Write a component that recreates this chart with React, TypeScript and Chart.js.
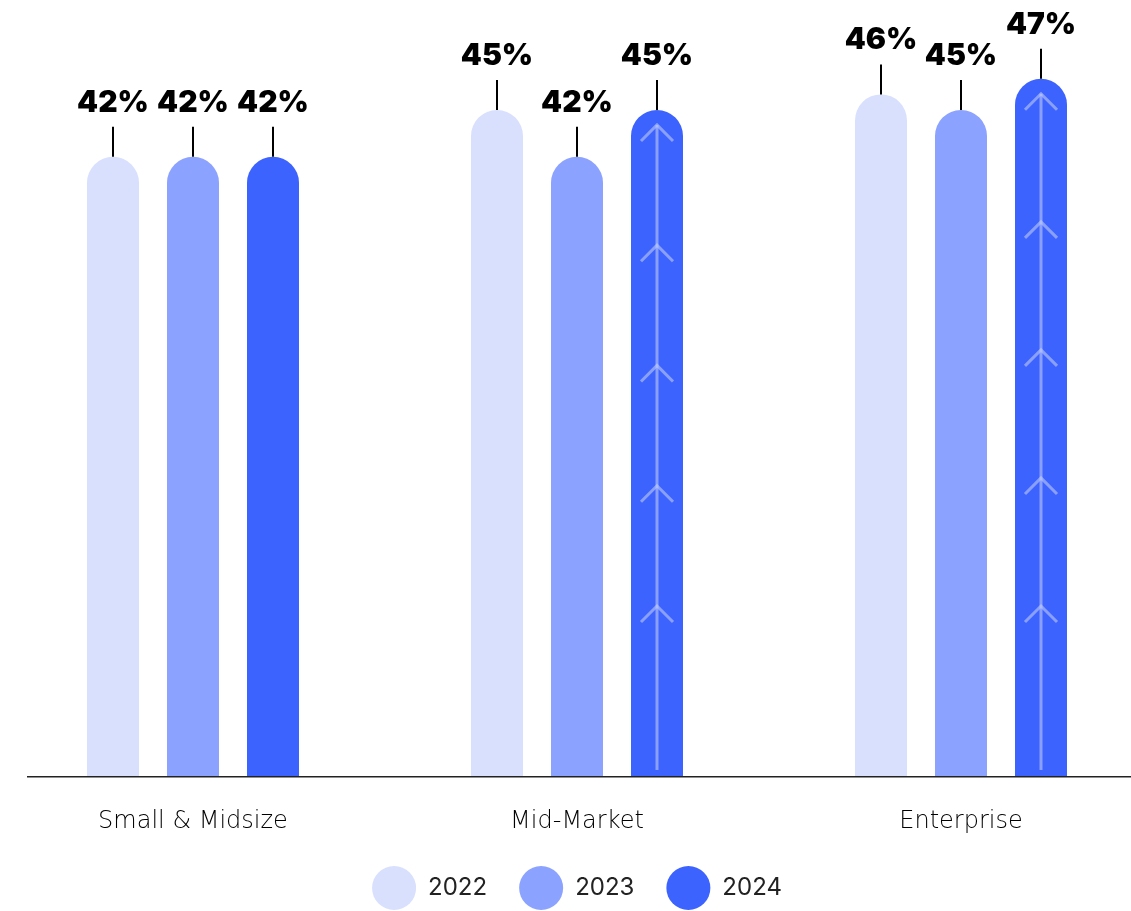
import React, { useEffect, useRef } from "react";
import { Chart, registerables } from "chart.js";

Chart.register(...registerables);

const categories = ["Small & Midsize", "Mid-Market", "Enterprise"];
const years = ["2022", "2023", "2024"];
const values2022 = [42, 45, 46];
const values2023 = [42, 42, 45];
const values2024 = [42, 45, 47];
const seriesColors = ["#D8E0FE", "#8CA2FF", "#3D63FF"];
const arrowBars = [1, 2]; // categories whose 2024 bar carries the arrow motif

const CANVAS_W = 1153;
const CANVAS_H = 920;

const baselinePlugin = {
  id: "baseline",
  afterDatasetsDraw(chart: any) {
    const { ctx, chartArea } = chart;
    ctx.save();
    ctx.strokeStyle = "#222";
    ctx.lineWidth = 1.5;
    ctx.beginPath();
    ctx.moveTo(27, chartArea.bottom + 0.75);
    ctx.lineTo(chart.width, chartArea.bottom + 0.75);
    ctx.stroke();
    ctx.restore();
  },
};

const arrowPlugin = {
  id: "arrows",
  afterDatasetsDraw(chart: any) {
    const { ctx, chartArea } = chart;
    const meta = chart.getDatasetMeta(2);
    ctx.save();
    ctx.strokeStyle = "rgba(200,212,255,0.55)";
    ctx.lineWidth = 3;
    ctx.lineCap = "butt";
    arrowBars.forEach((i) => {
      const el: any = meta.data[i];
      if (!el) return;
      const x = el.x;
      const top = el.y + 15;
      const base = chartArea.bottom;
      ctx.beginPath();
      ctx.moveTo(x, top);
      ctx.lineTo(x, base - 6);
      ctx.stroke();
      const last = base - 170;
      const n = 5;
      for (let k = 0; k < n; k++) {
        const ay = top + ((last - top) * k) / (n - 1);
        ctx.beginPath();
        ctx.moveTo(x - 16, ay + 16);
        ctx.lineTo(x, ay);
        ctx.lineTo(x + 16, ay + 16);
        ctx.stroke();
      }
    });
    ctx.restore();
  },
};

const valueLabelPlugin = {
  id: "valueLabels",
  afterDatasetsDraw(chart: any) {
    const { ctx } = chart;
    ctx.save();
    chart.data.datasets.forEach((ds: any, di: number) => {
      const meta = chart.getDatasetMeta(di);
      meta.data.forEach((el: any, i: number) => {
        const v = ds.data[i];
        ctx.strokeStyle = "#000";
        ctx.lineWidth = 2;
        ctx.beginPath();
        ctx.moveTo(el.x, el.y - 30);
        ctx.lineTo(el.x, el.y);
        ctx.stroke();
        ctx.fillStyle = "#000";
        ctx.font = "900 30px Inter";
        ctx.textAlign = "center";
        ctx.textBaseline = "alphabetic";
        ctx.fillText(`${v}%`, el.x, el.y - 45);
      });
    });
    ctx.restore();
  },
};

export default function App() {
  const ref = useRef<HTMLCanvasElement>(null);

  useEffect(() => {
    document.body.style.margin = "0";
    if (!ref.current) return;
    const chart = new Chart(ref.current, {
      type: "bar",
      data: {
        labels: categories,
        datasets: [values2022, values2023, values2024].map((vals, i) => ({
          label: years[i],
          data: vals,
          backgroundColor: seriesColors[i],
          borderRadius: { topLeft: 26, topRight: 26, bottomLeft: 0, bottomRight: 0 },
          borderSkipped: false,
          barPercentage: 0.65,
          categoryPercentage: 0.625,
        })),
      },
      options: {
        animation: false,
        responsive: false,
        layout: { padding: { left: 1, right: 0, top: 32, bottom: 0 } },
        scales: {
          x: {
            grid: { display: false },
            border: { display: false },
            ticks: {
              color: "#000",
              padding: 23,
              font: { family: "DejaVu Sans", size: 24, weight: 200 as any },
            },
            afterFit(scale: any) {
              scale.height = 58;
            },
          },
          y: { display: false, min: 2.3, max: 50 },
        },
        plugins: {
          legend: {
            position: "bottom",
            labels: {
              boxWidth: 44,
              boxHeight: 44,
              useBorderRadius: true,
              borderRadius: 22,
              padding: 32,
              color: "#222",
              font: { family: "Inter", size: 24, weight: 400 as any },
            },
          },
          tooltip: { enabled: false },
        },
      },
      plugins: [baselinePlugin, arrowPlugin, valueLabelPlugin],
    });
    return () => chart.destroy();
  }, []);

  return (
    <div style={{ width: 1131, height: 911, overflow: "hidden", position: "relative", background: "#fff" }}>
      <canvas
        ref={ref}
        width={CANVAS_W}
        height={CANVAS_H}
        style={{ width: CANVAS_W, height: CANVAS_H, display: "block" }}
      />
    </div>
  );
}
